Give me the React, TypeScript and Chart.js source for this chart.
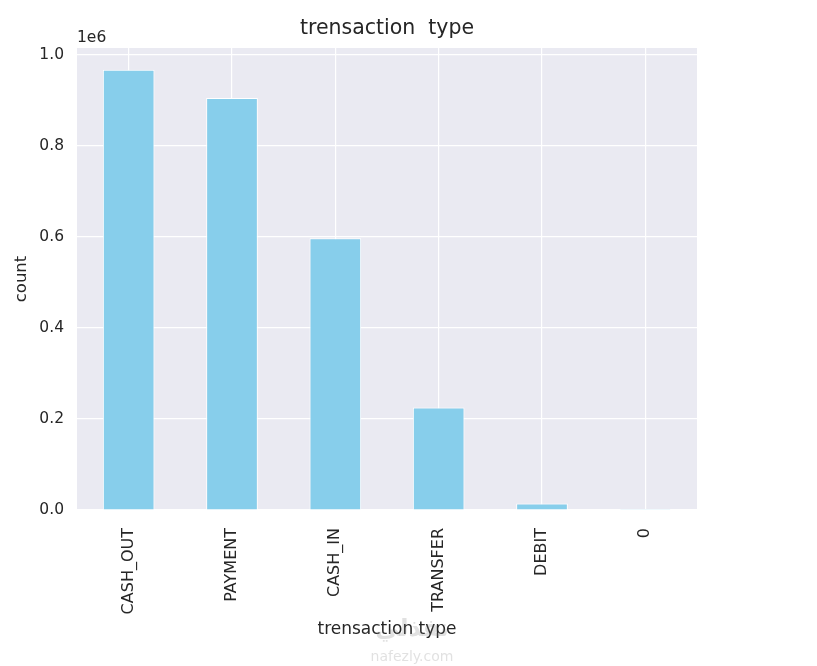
import React, { useEffect, useRef } from "react";
import { Chart, registerables } from "chart.js";

Chart.register(...registerables);

const categories = ["CASH_OUT", "PAYMENT", "CASH_IN", "TRANSFER", "DEBIT", "0"];
const counts = [967000, 905000, 597000, 225000, 14500, 1];
const yTicks = [0, 200000, 400000, 600000, 800000, 1000000];

const FONT = "'DejaVu Sans', sans-serif";
const TEXT = "#262626";

const decor = {
  id: "decor",
  beforeDraw(chart: any) {
    const { ctx, chartArea: a } = chart;
    ctx.save();
    ctx.fillStyle = "#EAEAF2";
    ctx.fillRect(a.left, a.top, a.right - a.left, a.bottom - a.top);
    ctx.restore();
  },
  afterDraw(chart: any) {
    const { ctx, chartArea: a } = chart;
    const cx = (a.left + a.right) / 2;
    ctx.save();
    ctx.fillStyle = TEXT;
    ctx.textAlign = "center";
    ctx.textBaseline = "middle";
    ctx.font = `20.5px ${FONT}`;
    ctx.fillText("trensaction  type", cx, 29);
    ctx.font = `17px ${FONT}`;
    ctx.fillText("trensaction type", cx, 630);
    ctx.save();
    ctx.translate(22, (a.top + a.bottom) / 2);
    ctx.rotate(-Math.PI / 2);
    ctx.font = `16.5px ${FONT}`;
    ctx.fillText("count", 0, 0);
    ctx.restore();
    ctx.textAlign = "left";
    ctx.textBaseline = "alphabetic";
    ctx.font = `15.5px ${FONT}`;
    ctx.fillText("1e6", a.left, 42);
    // faint watermark
    ctx.textAlign = "center";
    ctx.textBaseline = "middle";
    ctx.fillStyle = "rgba(120,120,120,0.22)";
    ctx.font = `bold 24px ${FONT}`;
    ctx.fillText("نفذلي", 412, 630);
    ctx.font = `14px ${FONT}`;
    ctx.fillText("nafezly.com", 412, 657);
    ctx.restore();
  },
};

export default function App() {
  const ref = useRef<HTMLCanvasElement>(null);
  useEffect(() => {
    document.body.style.margin = "0";
    const chart = new Chart(ref.current!, {
      type: "bar",
      data: {
        labels: categories,
        datasets: [
          {
            data: counts,
            backgroundColor: "#87CEEB",
            borderColor: "#ffffff",
            borderWidth: 1,
            categoryPercentage: 1,
            barPercentage: 0.5,
          },
        ],
      },
      options: {
        animation: false,
        responsive: false,
        maintainAspectRatio: false,
        layout: { padding: { left: 0, top: 48, right: 120, bottom: 0 } },
        plugins: {
          legend: { display: false },
          tooltip: { enabled: false },
          title: { display: false },
        },
        scales: {
          x: {
            offset: true,
            grid: { color: "#ffffff", lineWidth: 1.2, offset: false, drawTicks: false },
            border: { display: false },
            ticks: {
              color: TEXT,
              font: { family: FONT, size: 16 },
              minRotation: 90,
              maxRotation: 90,
              padding: 18,
              autoSkip: false,
            },
            afterFit(scale: any) {
              scale.height = 156;
            },
          },
          y: {
            min: 0,
            max: 1015000,
            grid: { color: "#ffffff", lineWidth: 1.2, drawTicks: false },
            border: { display: false },
            afterBuildTicks(scale: any) {
              scale.ticks = yTicks.map((v) => ({ value: v }));
            },
            ticks: {
              color: TEXT,
              font: { family: FONT, size: 15.5 },
              padding: 13,
              callback: (v: any) => (Number(v) / 1e6).toFixed(1),
            },
            afterFit(scale: any) {
              scale.width = 77;
            },
          },
        },
      },
      plugins: [decor],
    });
    return () => chart.destroy();
  }, []);
  return (
    <div style={{ width: 817, height: 666, background: "#fff" }}>
      <canvas ref={ref} width={817} height={666} style={{ display: "block", width: 817, height: 666 }} />
    </div>
  );
}
